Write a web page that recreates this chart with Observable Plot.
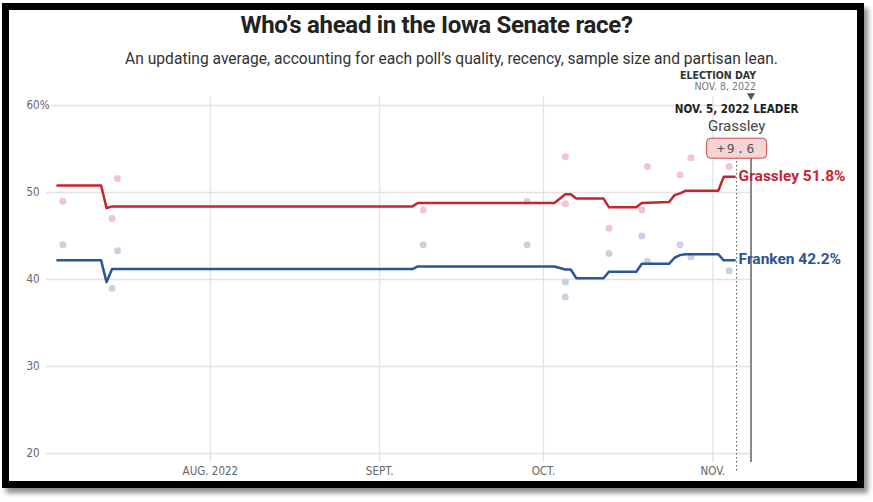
<!DOCTYPE html>
<html>
<head>
<meta charset="utf-8">
<script src="https://cdn.jsdelivr.net/npm/d3@7"></script>
<script src="https://cdn.jsdelivr.net/npm/@observablehq/plot@0.6"></script>
<style>
  html, body { margin: 0; padding: 0; background: #fff; }
  #page { position: relative; width: 873px; height: 502px; overflow: hidden; background: #fff; }
  #frame { position: absolute; left: 2px; top: 3px; width: 862px; height: 485px; box-sizing: border-box;
           border: 7px solid #000; box-shadow: 4px 5px 5px rgba(0,0,0,0.45); background: #fff; }
  #title { position: absolute; left: 0; width: 873px; top: 11px; text-align: center;
           font-family: Roboto, "Noto Sans", sans-serif; font-weight: 700; font-size: 24px; line-height: 28px;
           color: #222; letter-spacing: -0.3px; }
  #subtitle { position: absolute; left: 15px; width: 873px; top: 50px; text-align: center;
           font-family: Roboto, "Noto Sans", sans-serif; font-size: 15.6px; line-height: 18px; color: #333; }
  #chart { position: absolute; left: 0; top: 62px; }
</style>
</head>
<body>
<div id="page">
  <div id="frame"></div>
  <div id="title">Who’s ahead in the Iowa Senate race?</div>
  <div id="subtitle">An updating average, accounting for each poll’s quality, recency, sample size and partisan lean.</div>
  <div id="chart"></div>
</div>
<script>
// ---- data ----
const avgDates = ["2022-07-04","2022-07-12","2022-07-13","2022-07-14","2022-09-07","2022-09-08","2022-10-03","2022-10-05","2022-10-06","2022-10-07","2022-10-12","2022-10-13","2022-10-18","2022-10-19","2022-10-24","2022-10-25","2022-10-26","2022-10-27","2022-11-02","2022-11-03","2022-11-05"];
const grassleyAvg = [50.8,50.8,48.2,48.4,48.4,48.8,48.8,49.8,49.8,49.3,49.3,48.3,48.3,48.8,48.9,49.7,49.9,50.2,50.2,51.8,51.8];
const frankenAvg  = [42.2,42.2,39.7,41.2,41.2,41.5,41.5,41.15,41.15,40.15,40.15,40.9,40.9,41.8,41.8,42.5,42.8,42.9,42.9,42.2,42.2];

const pollDates = ["2022-07-05","2022-07-14","2022-07-15","2022-09-09","2022-09-28","2022-10-05","2022-10-05","2022-10-13","2022-10-19","2022-10-20","2022-10-26","2022-10-28","2022-11-04"];
const grassleyPolls = [49, 47, 51.6, 48, 49, 54.1, 48.7, 45.9, 48, 53, 52, 54, 53];
const frankenPolls  = [44, 39, 43.3, 44, 44, 38, 39.7, 43, 45, 42.1, 44, 42.6, 41];

const monthTicks = ["2022-08-01","2022-09-01","2022-10-01","2022-11-01"];
const monthLabels = ["AUG. 2022","SEPT.","OCT.","NOV."];
const yTicks = [20, 30, 40, 50, 60];
const domainStart = "2022-07-02";
const electionDay = "2022-11-08";
const leaderDate = "2022-11-05";

// ---- build tables ----
const D = s => new Date(s);
const avg = avgDates.map((d, i) => ({date: D(d), grassley: grassleyAvg[i], franken: frankenAvg[i]}));
const polls = pollDates.map((d, i) => ({date: D(d), grassley: grassleyPolls[i], franken: frankenPolls[i]}));
const last = avg[avg.length - 1];
const margin = (last.grassley - last.franken).toFixed(1);

const RED = "#c3262f", BLUE = "#2b5596";
const COND = "'DejaVu Sans Condensed', 'Liberation Sans Narrow', 'Roboto Condensed', Roboto, sans-serif";
const SANS = "Roboto, 'Noto Sans', sans-serif";

const chart = Plot.plot({
  width: 873, height: 420,
  marginLeft: 46, marginRight: 122.5, marginTop: 43, marginBottom: 29,
  style: {background: "transparent", overflow: "visible", fontFamily: COND},
  x: {type: "utc", domain: [D(domainStart), D(electionDay)], axis: null},
  y: {domain: [20, 60], axis: null},
  marks: [
    Plot.ruleY(yTicks, {y: d => d, stroke: "#e2e2e2", strokeWidth: 1.5}),
    Plot.ruleX(monthTicks.map(D), {x: d => d, stroke: "#e2e2e2", strokeWidth: 1.2, insetTop: -9, insetBottom: -9}),
    Plot.text(yTicks, {y: d => d, text: d => d === 60 ? "60%" : String(d), frameAnchor: "left", textAnchor: "start",
      dx: -20, fill: "#666", stroke: "white", strokeWidth: 5, paintOrder: "stroke", fontSize: 11.5, fontFamily: COND}),
    Plot.text(monthTicks.map(D), {x: d => d, text: (d, i) => monthLabels[i], frameAnchor: "bottom", dy: 21.5,
      fill: "#666", fontSize: 11.5, fontFamily: COND}),
    Plot.dot(polls, {x: "date", y: "grassley", r: 3.5, fill: "#f2c6c7"}),
    Plot.dot(polls, {x: "date", y: "franken", r: 3.5, fill: "#c9d1e3"}),
    Plot.ruleX([D(electionDay)], {x: d => d, stroke: "#888", strokeWidth: 2, insetTop: 52, insetBottom: -9}),
    Plot.ruleX([D(leaderDate)], {x: d => d, dx: 2, stroke: "#555", strokeWidth: 1, strokeDasharray: "1.5,2.5", insetTop: 52, insetBottom: -19}),
    Plot.line(avg, {x: "date", y: "grassley", stroke: RED, strokeWidth: 2.5}),
    Plot.line(avg, {x: "date", y: "franken", stroke: BLUE, strokeWidth: 2.5}),
    Plot.text([last], {x: "date", y: "grassley", text: d => `Grassley ${d.grassley}%`, textAnchor: "start", dx: 4, dy: -1,
      fill: RED, fontWeight: "bold", fontSize: 15.5, fontFamily: SANS}),
    Plot.text([last], {x: "date", y: "franken", text: d => `Franken ${d.franken}%`, textAnchor: "start", dx: 4, dy: -1,
      fill: BLUE, fontWeight: "bold", fontSize: 15.5, fontFamily: SANS}),
    // election day annotation
    Plot.text([D(electionDay)], {x: d => d, text: ["ELECTION DAY"], frameAnchor: "top", textAnchor: "end", dx: 5, dy: -34,
      fill: "#333", fontWeight: "bold", fontSize: 10.5, fontFamily: COND}),
    Plot.text([D(electionDay)], {x: d => d, text: ["NOV. 8, 2022"], frameAnchor: "top", textAnchor: "end", dx: 5, dy: -22.5,
      fill: "#777", fontSize: 10.5, fontFamily: COND}),
    Plot.dot([D(electionDay)], {x: d => d, frameAnchor: "top", dy: -10, symbol: "triangle", rotate: 180, r: 3, fill: "#555"}),
    // leader annotation
    Plot.text([D(leaderDate)], {x: d => d, text: ["NOV. 5, 2022 LEADER"], frameAnchor: "top", dx: 2, dy: -0.5,
      fill: "#222", fontWeight: "bold", fontSize: 11.5, fontFamily: COND}),
    Plot.text([D(leaderDate)], {x: d => d, text: ["Grassley"], frameAnchor: "top", dx: 2, dy: 15,
      fill: "#444", fontSize: 15, fontFamily: SANS}),
    Plot.text([D(leaderDate)], {x: d => d, text: ["+" + margin], frameAnchor: "top", dx: 2, dy: 38,
      fill: "#555", fontSize: 13, fontFamily: "'DejaVu Sans Mono', monospace", className: "margin-label"})
  ]
});
document.getElementById("chart").appendChild(chart);

// rounded box behind the margin label
const svg = d3.select(chart);
const lbl = svg.select("g.margin-label text");
if (!lbl.empty()) {
  lbl.style("letter-spacing", "2px");
  const node = lbl.node();
  const bb = node.getBBox();
  const w = Math.max(bb.width + 12, 60), h = 20;
  const cx = bb.x + bb.width / 2, cy = bb.y + bb.height / 2;
  d3.select(node.parentNode).insert("rect", "text")
    .attr("transform", node.getAttribute("transform"))
    .attr("x", cx - w / 2).attr("y", cy - h / 2).attr("width", w).attr("height", h)
    .attr("rx", 4).attr("fill", "#f6d4d4").attr("stroke", "#c9494b").attr("stroke-width", 1);
}
</script>
</body>
</html>
